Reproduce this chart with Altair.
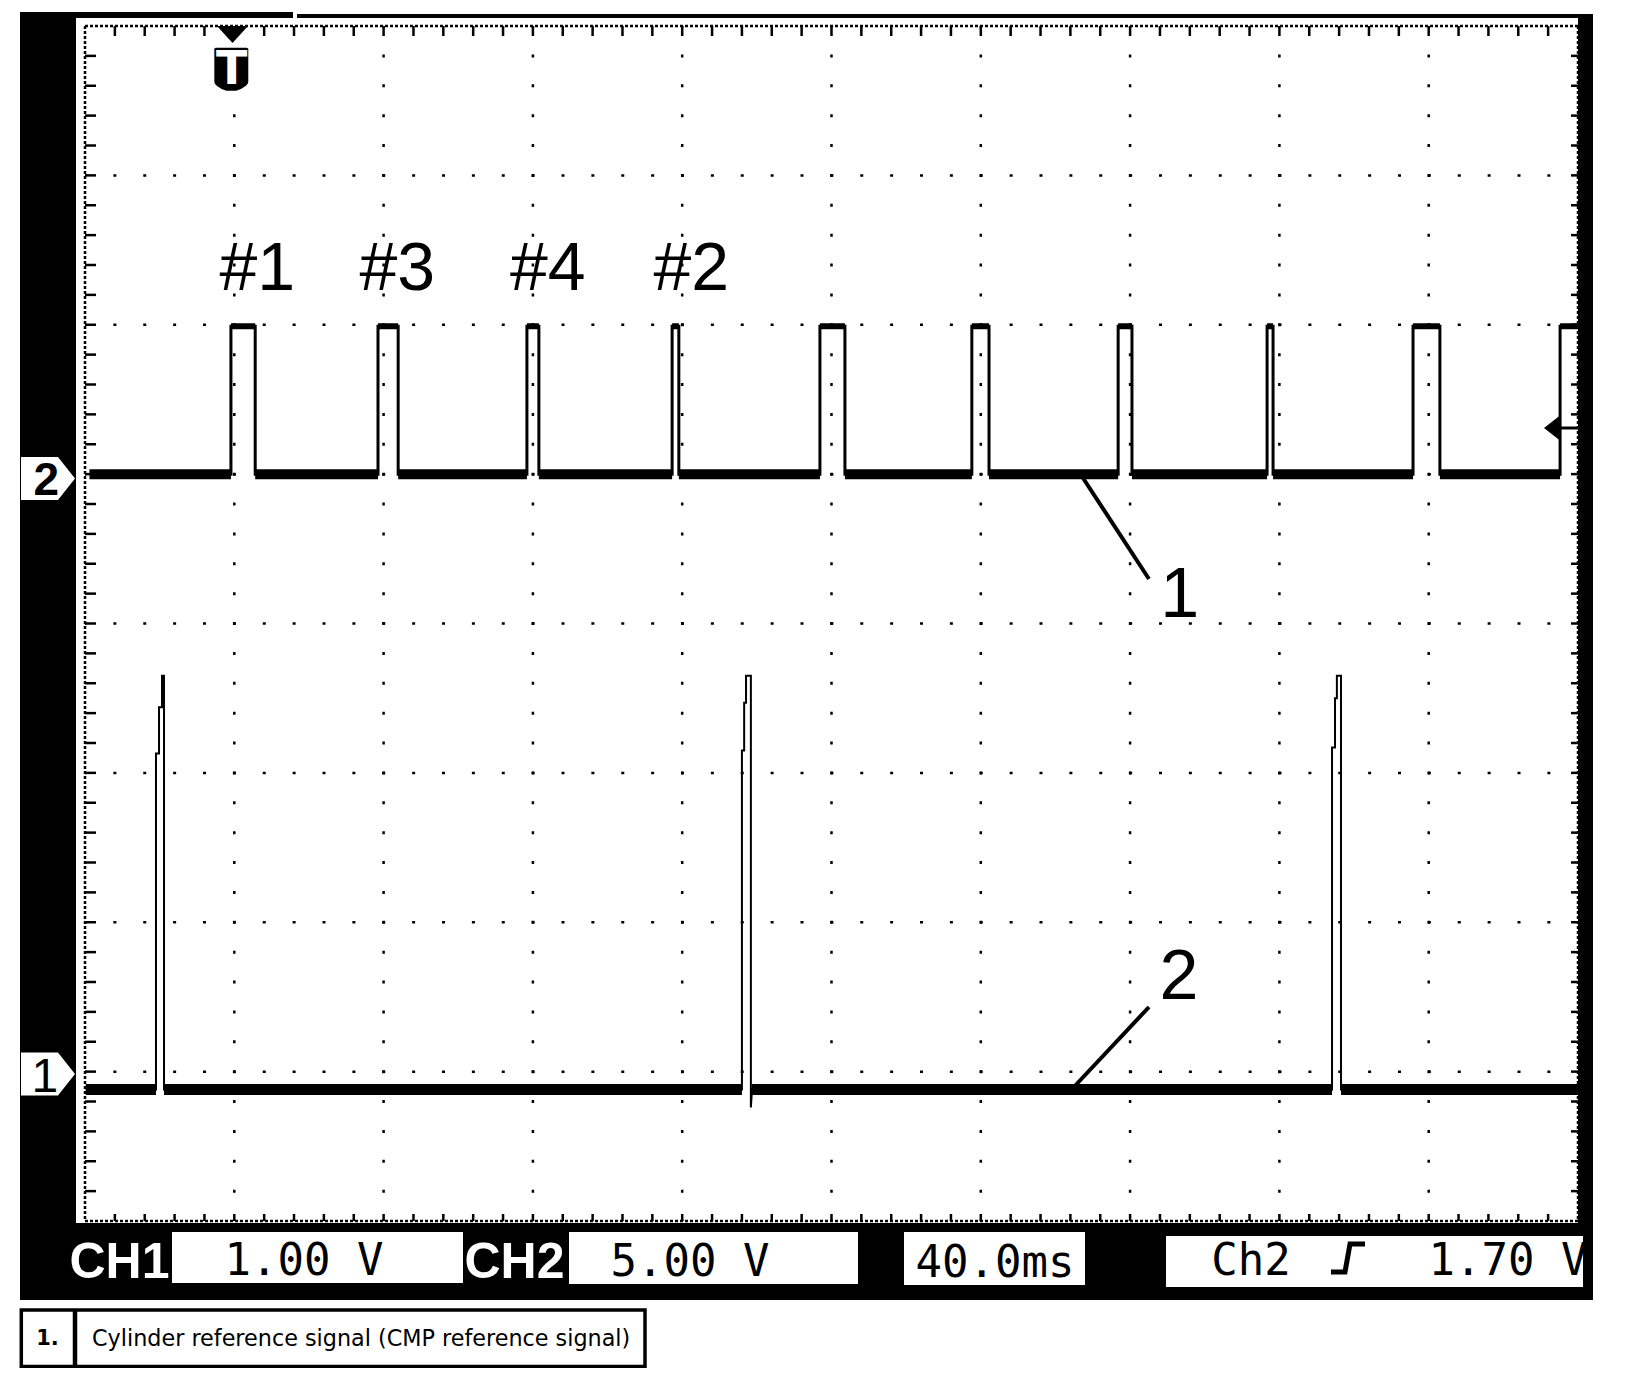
import altair as alt
import pandas as pd

# ---------------- values ----------------
TIME_PER_DIV_MS = 40.0
CH1_VOLTS_PER_DIV = 1.0
CH2_VOLTS_PER_DIV = 5.0
CH1_GROUND_DIV = -3.0
CH2_GROUND_DIV = 1.0

TRACE_START_MS = -38.8
TRACE_END_MS = 360.0

# Channel 2: cylinder (CMP) reference signal, edge times in ms (trigger = 0)
CH2_RISE_MS = [-0.9, 38.5, 78.4, 117.3, 156.9, 197.6, 236.8, 276.7, 315.8, 355.2]
CH2_FALL_MS = [5.6, 43.9, 81.6, 119.1, 163.6, 202.2, 240.5, 278.3, 323.0]
CH2_LOW_V = 0.0
CH2_HIGH_V = 4.95

# Channel 1: crank reference spikes
CH1_BASE_V = -0.12
CH1_SPIKE_MS = [
    [-20.98, -20.98, -20.17, -20.17, -19.37, -19.37, -18.83, -18.83],
    [136.0, 136.0, 136.6, 136.6, 137.1, 137.1, 138.4, 138.4, 138.7],
    [294.1, 294.1, 294.9, 294.9, 295.4, 295.4, 296.5, 296.5],
]
CH1_SPIKE_V = [
    [-0.12, 2.13, 2.13, 2.44, 2.44, 2.65, 2.65, -0.12],
    [-0.12, 2.15, 2.15, 2.47, 2.47, 2.65, 2.65, -0.24, -0.12],
    [-0.12, 2.17, 2.17, 2.50, 2.50, 2.65, 2.65, -0.12],
]

GRID_ROWS_DIV = [-3, -2, -1, 0, 1, 2, 3]
GRID_COLS_MS = [0, 40, 80, 120, 160, 200, 240, 280, 320]

PULSE_LABELS = ["#1", "#3", "#4", "#2"]
CALLOUTS = ["1", "2"]
STATUS_LABELS = ["CH1", "CH2"]
STATUS_VALUES = ["1.00 V", "5.00 V", "40.0ms", "Ch2", "1.70 V"]
LEGEND_NUM = "1."
LEGEND_TEXT = "Cylinder reference signal (CMP reference signal)"

# ---------------- layout (page pixels) ----------------
W, H, M = 1616, 1360, 8
GX0, GX1, GY0, GY1 = 85.0, 1578.0, 26.0, 1221.0
PX_PER_MS = (GX1 - GX0) / (10 * TIME_PER_DIV_MS)
PX_PER_DIV = (GY1 - GY0) / 8.0
T_LEFT = -TIME_PER_DIV_MS
T_RIGHT = T_LEFT + 10 * TIME_PER_DIV_MS


def tx(px):
    return T_LEFT + (px - GX0) / PX_PER_MS


def dy(py):
    return 4.0 - (py - GY0) / PX_PER_DIV


XS = alt.Scale(domain=[tx(M), tx(M + W)], nice=False, zero=False)
YS = alt.Scale(domain=[dy(M + H), dy(M)], nice=False, zero=False)


def X(f):
    return alt.X(f, type="quantitative", scale=XS, axis=None)


def Y(f):
    return alt.Y(f, type="quantitative", scale=YS, axis=None)


def rects(boxes, **kw):
    df = pd.DataFrame([{"x": tx(a), "x2": tx(c), "y": dy(b), "y2": dy(d)} for a, b, c, d in boxes])
    return alt.Chart(df).mark_rect(**kw).encode(x=X("x"), x2=alt.X2("x2"), y=Y("y"), y2=alt.Y2("y2"))


def segs(rows, **kw):
    df = pd.DataFrame(rows, columns=["x", "y", "x2", "y2"])
    return alt.Chart(df).mark_rule(**kw).encode(x=X("x"), y=Y("y"), x2=alt.X2("x2"), y2=alt.Y2("y2"))


def texts(rows, **kw):
    df = pd.DataFrame([{"x": tx(a), "y": dy(b), "t": s} for a, b, s in rows])
    return alt.Chart(df).mark_text(baseline="alphabetic", **kw).encode(x=X("x"), y=Y("y"), text="t:N")


def symbol(px, py, path, size, color):
    df = pd.DataFrame([{"x": tx(px), "y": dy(py)}])
    return alt.Chart(df).mark_point(shape=path, size=size, filled=True, color=color,
                                    opacity=1, strokeWidth=0).encode(x=X("x"), y=Y("y"))


def line(ts, ds, **kw):
    df = pd.DataFrame({"x": ts, "y": ds, "i": list(range(len(ts)))})
    return alt.Chart(df).mark_line(**kw).encode(x=X("x"), y=Y("y"), order="i:Q")


def ch2_div(v):
    return CH2_GROUND_DIV + v / CH2_VOLTS_PER_DIV


def ch1_div(v):
    return CH1_GROUND_DIV + v / CH1_VOLTS_PER_DIV


layers = []

# ---- instrument frame ----
layers.append(rects([(20, 12, 1593, 1300)], color="black", strokeWidth=0))
layers.append(rects([(76, 18, 1578, 1223), (293, 12, 297, 18), (297, 12, 1593, 14)],
                    color="white", strokeWidth=0))

# ---- graticule ----
minor_ms = TIME_PER_DIV_MS / 5
edges = [(T_LEFT, 4, T_RIGHT, 4), (T_LEFT, -4, T_RIGHT, -4),
         (T_LEFT, 4, T_LEFT, -4), (T_RIGHT, 4, T_RIGHT, -4)]
layers.append(segs(edges, color="black", strokeWidth=2.5, strokeDash=[3, 2]))
ticks = []
for j in range(1, 50):
    t = T_LEFT + minor_ms * j
    ticks.append((t, 4, t, dy(GY0 + 10)))
    ticks.append((t, -4, t, dy(GY1 - 7)))
for j in range(1, 40):
    d = -4 + 0.2 * j
    ticks.append((T_LEFT, d, tx(GX0 + 11), d))
    ticks.append((T_RIGHT, d, tx(GX1 - 7), d))
layers.append(segs(ticks, color="black", strokeWidth=2.5))
dots = PX_PER_DIV / 5
majors = [(T_LEFT, d, T_RIGHT, d) for d in GRID_ROWS_DIV] + [(t, 4, t, -4) for t in GRID_COLS_MS]
layers.append(segs(majors, color="black", strokeWidth=2.5, strokeDash=[3, dots - 3], strokeDashOffset=1.5))

# ---- channel 2 trace ----
c2_t, c2_v = [TRACE_START_MS], [CH2_LOW_V]
for i, r in enumerate(CH2_RISE_MS):
    c2_t += [r, r]
    c2_v += [CH2_LOW_V, CH2_HIGH_V]
    if i < len(CH2_FALL_MS):
        c2_t += [CH2_FALL_MS[i], CH2_FALL_MS[i]]
        c2_v += [CH2_HIGH_V, CH2_LOW_V]
    else:
        c2_t += [TRACE_END_MS]
        c2_v += [CH2_HIGH_V]
lo_starts = [TRACE_START_MS] + CH2_FALL_MS
lo_rows = [(a, ch2_div(CH2_LOW_V), b, ch2_div(CH2_LOW_V)) for a, b in zip(lo_starts, CH2_RISE_MS)]
hi_ends = CH2_FALL_MS + [TRACE_END_MS]
hi_rows = [(a, ch2_div(CH2_HIGH_V), b, ch2_div(CH2_HIGH_V)) for a, b in zip(CH2_RISE_MS, hi_ends)]
layers.append(segs(lo_rows, color="black", strokeWidth=10))
layers.append(segs(hi_rows, color="black", strokeWidth=6))
layers.append(line(c2_t, [ch2_div(v) for v in c2_v], color="black", strokeWidth=3))

# ---- channel 1 trace ----
c1_t, c1_v = [T_LEFT + 0.2], [CH1_BASE_V]
for ts, vs in zip(CH1_SPIKE_MS, CH1_SPIKE_V):
    c1_t += ts
    c1_v += vs
c1_t.append(TRACE_END_MS)
c1_v.append(CH1_BASE_V)
b_starts = [T_LEFT + 0.2] + [s[-1] for s in CH1_SPIKE_MS]
b_ends = [s[0] for s in CH1_SPIKE_MS] + [TRACE_END_MS]
base_rows = [(a, ch1_div(CH1_BASE_V), b, ch1_div(CH1_BASE_V)) for a, b in zip(b_starts, b_ends)]
layers.append(segs(base_rows, color="black", strokeWidth=11))
layers.append(line(c1_t, [ch1_div(v) for v in c1_v], color="black", strokeWidth=2))

# ---- annotations ----
layers.append(texts([(219.5, 290, PULSE_LABELS[0]), (359.5, 290, PULSE_LABELS[1]),
                     (510, 290, PULSE_LABELS[2]), (653.5, 290, PULSE_LABELS[3])],
                    font="Liberation Sans", fontSize=68, align="left", color="black"))
layers.append(texts([(1179.6, 617, CALLOUTS[0]), (1179, 999, CALLOUTS[1])],
                    font="Liberation Sans", fontSize=70, align="center", color="black"))
layers.append(segs([(tx(1083), dy(478), tx(1149), dy(579)),
                    (tx(1149), dy(1007), tx(1072), dy(1089))], color="black", strokeWidth=4))

# trigger marker "T"
layers.append(symbol(232.5, 34.5, "M-1,-0.55L1,-0.55L0,0.55Z", 961, "black"))
shield = ("M-0.72,-1L0.72,-1Q0.79,-1 0.79,-0.93L0.79,0.58Q0.79,0.8 0.23,1L-0.23,1"
          "Q-0.79,0.8 -0.79,0.58L-0.79,-0.93Q-0.79,-1 -0.72,-1Z")
layers.append(symbol(231.3, 69.2, shield, 1849, "black"))
layers.append(texts([(231.7, 84, "T")], font="DejaVu Sans", fontWeight="bold", fontSize=46,
                    align="center", color="white"))

# trigger level arrow (right edge)
layers.append(symbol(1552, 428, "M-0.64,0L0.64,-1L0.64,1Z", 625, "black"))
layers.append(segs([(tx(1558), dy(428), tx(1578), dy(428))], color="black", strokeWidth=3))

# channel ground markers on the left
pent = "M-1,-0.8L0.37,-0.8L1,0L0.37,0.8L-1,0.8Z"
layers.append(symbol(48, 478.5, pent, 2916, "white"))
layers.append(symbol(48, 1074, pent, 2916, "white"))
layers.append(texts([(33.6, 495, "2")], font="Liberation Sans", fontWeight="bold", fontSize=46,
                    align="left", color="black"))
layers.append(texts([(31.5, 1092, "1")], font="Liberation Sans", fontSize=48,
                    align="left", color="black"))

# ---- status bar ----
layers.append(rects([(172, 1232, 463, 1283), (569, 1232, 858, 1284),
                     (904, 1232, 1085, 1285), (1166, 1236, 1583, 1287)], color="white", strokeWidth=0))
layers.append(texts([(69.5, 1278, STATUS_LABELS[0]), (464.5, 1278, STATUS_LABELS[1])],
                    font="Liberation Sans", fontWeight="bold", fontSize=50, align="left", color="white"))
layers.append(texts([(304, 1275, STATUS_VALUES[0]), (690, 1276, STATUS_VALUES[1]),
                     (995, 1277, STATUS_VALUES[2]), (1251, 1275, STATUS_VALUES[3]),
                     (1508, 1275, STATUS_VALUES[4])],
                    font="DejaVu Sans Mono", fontSize=44, align="center", color="black"))
layers.append(line([tx(1331), tx(1345), tx(1350), tx(1365)],
                   [dy(1272), dy(1272), dy(1244), dy(1244)], color="black", strokeWidth=5))

# ---- legend box ----
layers.append(rects([(21.3, 1310, 645, 1366.5)], fill="white", stroke="black", strokeWidth=3.5))
layers.append(segs([(tx(75), dy(1310), tx(75), dy(1366.5))], color="black", strokeWidth=4.5))
layers.append(texts([(47.5, 1345, LEGEND_NUM)], font="DejaVu Sans", fontWeight="bold", fontSize=21,
                    align="center", color="black"))
layers.append(texts([(92, 1346, LEGEND_TEXT)], font="DejaVu Sans", fontSize=22.3,
                    align="left", color="black"))

chart = alt.layer(*layers).properties(
    width=W, height=H, padding=0, background="white",
    autosize=alt.AutoSizeParams(type="none"),
).configure_view(stroke=None)

chart.save("out.html", embed_options={"renderer": "svg", "actions": False})
